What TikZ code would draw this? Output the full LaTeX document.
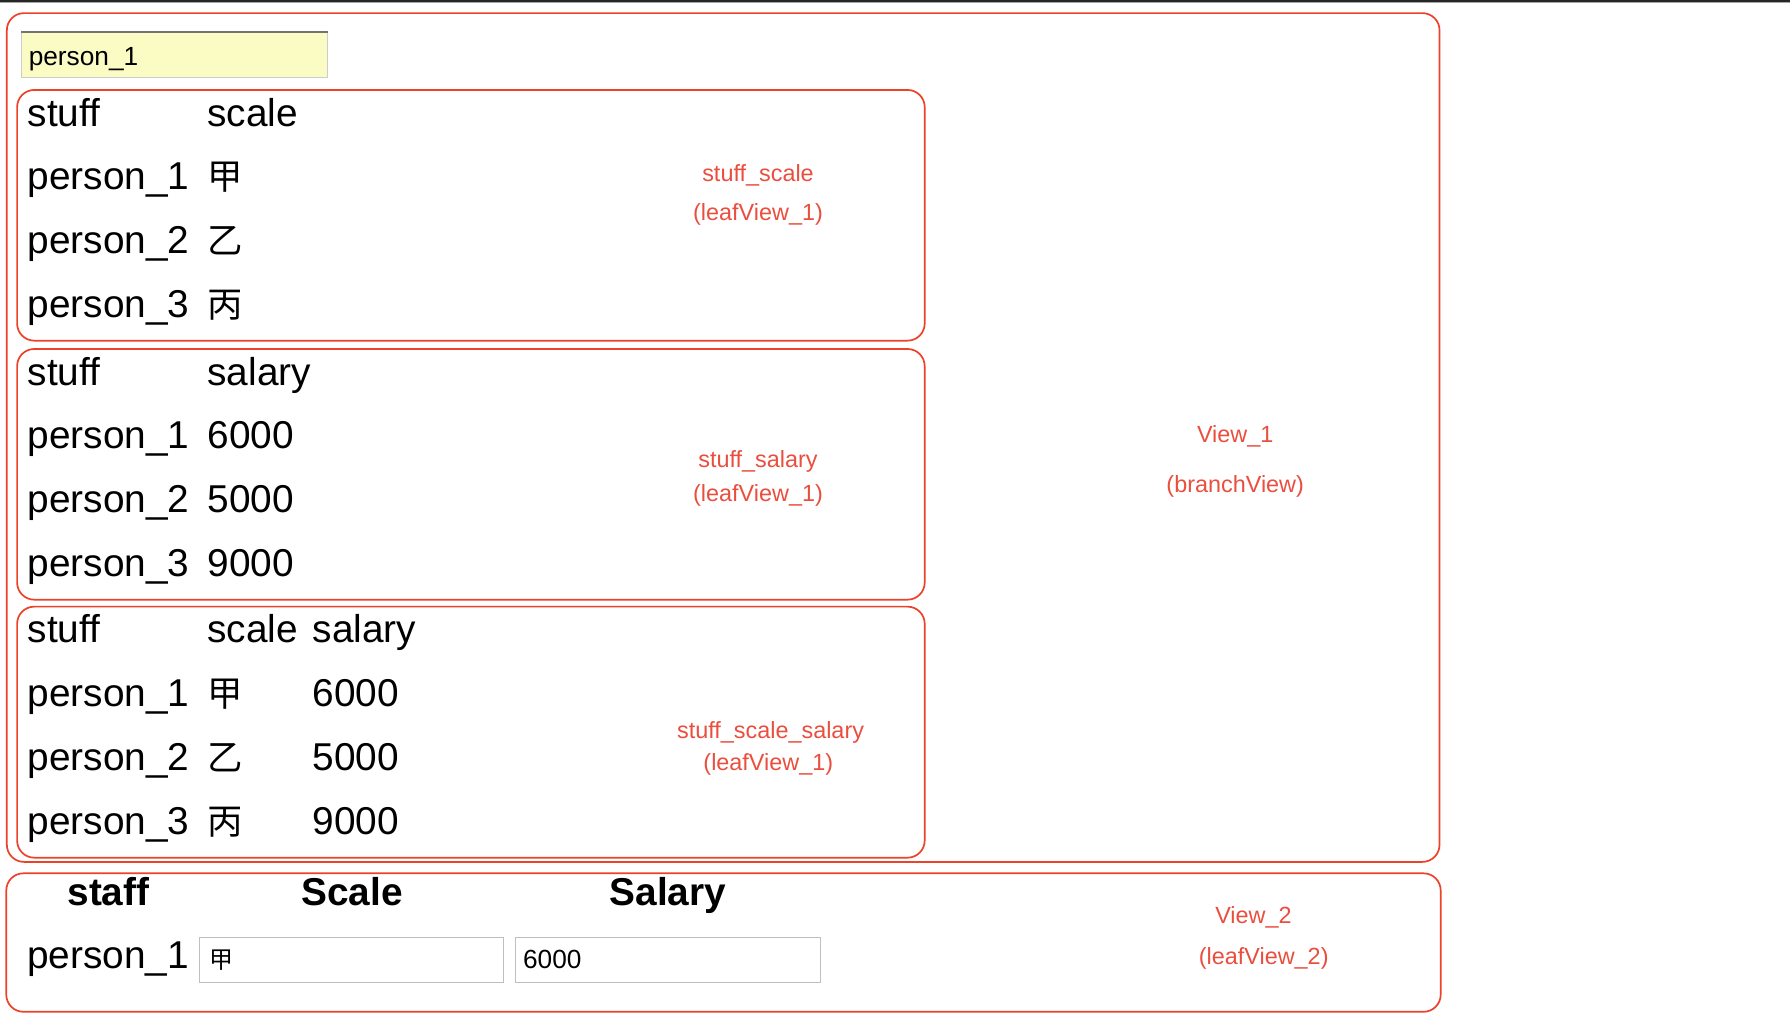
\documentclass[tikz,border=0pt]{standalone}
\usepackage{fontspec}
\setmainfont{Liberation Sans}
\newfontfamily\cjk{Noto Sans CJK SC}
\definecolor{viewred}{RGB}{236,66,42}
\definecolor{labelred}{RGB}{234,78,62}
\definecolor{fieldyellow}{RGB}{250,252,196}
\tikzset{
  viewbox/.style={draw=viewred, line width=1.5pt, rounded corners=15pt},
  viewlabel/.style={text=labelred, inner sep=0pt, font=\fontsize{20.5}{24}\selectfont},
  cell/.style={anchor=base west, inner sep=0pt, font=\fontsize{34}{40}\selectfont},
  headcell/.style={anchor=base, inner sep=0pt, font=\fontsize{34}{40}\selectfont\bfseries},
  field/.style={draw=black!25, line width=0.9pt},
  fieldtext/.style={anchor=base west, inner sep=0pt, font=\fontsize{23}{27}\selectfont},
}
\newcommand{\hanzi}[1]{{\cjk\fontsize{31}{36}\selectfont #1}}

\begin{document}
\begin{tikzpicture}[x=1pt,y=-1pt]
			%%%%% START %%%%%
			\useasboundingbox (0,0) rectangle (1568,898.8);
			
			\fill[black!85] (0,0) rectangle (1568,2);
			\fill[black!35] (0,2) rectangle (1568,3);
			
			% View_1
			\draw[viewbox] (6,11.5) rectangle (1261,755);
			\node[viewlabel] (view1) at (1082,382) {View\_1};
			\node[viewlabel] (view1kind) at (1082,426) {(branchView)};
			
			\draw[field, fill=fieldyellow, draw=black!20] (18.5,27.5) rectangle (287,67.5);
			\draw[black!55, line width=1.6pt] (18.5,28) -- (287,28);
			\node[fieldtext] (search) at (25,57) {person\_1};
			
			% stuff_scale
			\draw[viewbox] (15,78.8) rectangle (810,298.4);
			\node[cell] (scalehead1) at (24,110.4) {stuff};
			\node[cell] (scalehead2) at (181.5,110.4) {scale};
			\foreach \who/\lvl [count=\i] in {1/甲,2/乙,3/丙} {
				\node[cell] (scalename\i) at (24,110.4+56*\i) {person\_\who};
				\node[cell] (scalelvl\i) at (181.5,110.4+56*\i) {\hanzi{\lvl}};
			}
			\node[viewlabel] (scalelabel) at (664,153.5) {stuff\_scale};
			\node[viewlabel] (scalekind) at (664,187.7) {(leafView\_1)};
			
			% stuff_salary
			\draw[viewbox] (15,305.7) rectangle (810,525.3);
			\node[cell] (salaryhead1) at (24,337.3) {stuff};
			\node[cell] (salaryhead2) at (181.5,337.3) {salary};
			\foreach \who/\pay [count=\i] in {1/6000,2/5000,3/9000} {
				\node[cell] (salaryname\i) at (24,337.3+56*\i) {person\_\who};
				\node[cell] (salarypay\i) at (181.5,337.3+56*\i) {\pay};
			}
			\node[viewlabel] (salarylabel) at (664,404) {stuff\_salary};
			\node[viewlabel] (salarykind) at (664,434) {(leafView\_1)};
			
			% stuff_scale_salary
			\draw[viewbox] (15,531.4) rectangle (810,751.3);
			\node[cell] (bothhead1) at (24,563) {stuff};
			\node[cell] (bothhead2) at (181.5,563) {scale};
			\node[cell] (bothhead3) at (273.7,563) {salary};
			\foreach \who/\lvl/\pay [count=\i] in {1/甲/6000,2/乙/5000,3/丙/9000} {
				\node[cell] (bothname\i) at (24,563+56*\i) {person\_\who};
				\node[cell] (bothlvl\i) at (181.5,563+56*\i) {\hanzi{\lvl}};
				\node[cell] (bothpay\i) at (273.7,563+56*\i) {\pay};
			}
			\node[viewlabel] (bothlabel) at (675,642) {stuff\_scale\_salary};
			\node[viewlabel] (bothkind) at (673,670) {(leafView\_1)};
			
			% View_2
			\draw[viewbox] (5.5,765) rectangle (1262,886.3);
			\node[headcell] (stafftitle) at (95,792.8) {staff};
			\node[headcell] (scaletitle) at (308.4,792.8) {Scale};
			\node[headcell] (salarytitle) at (585,792.8) {Salary};
			\node[cell] (editname) at (23.5,848.2) {person\_1};
			\draw[field] (175,821.4) rectangle (441.3,860.5);
			\draw[field] (451.4,821.4) rectangle (718.4,860.5);
			\node[fieldtext, font=\cjk\fontsize{21}{25}\selectfont] (editscale) at (183,848) {甲};
			\node[fieldtext] (editsalary) at (458,848) {6000};
			\node[viewlabel] (view2) at (1098,804) {View\_2};
			\node[viewlabel] (view2kind) at (1107,839.5) {(leafView\_2)};
			
			%%%%% END %%%%%
\end{tikzpicture}
\end{document}
